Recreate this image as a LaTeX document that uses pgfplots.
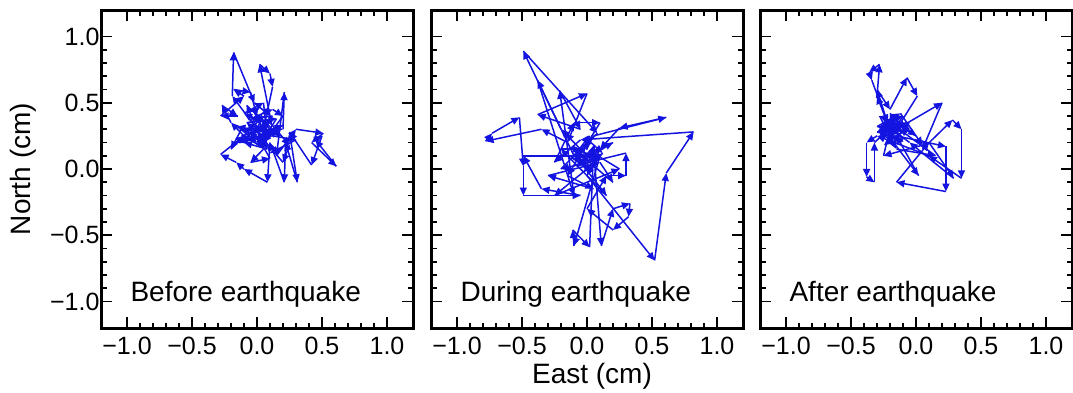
\documentclass[border=0pt]{standalone}
\usepackage{pgfplots}
\pgfplotsset{compat=1.18}
\usepackage{pgfplotstable}
\usepackage{fontspec}
\setmainfont{Liberation Sans}
\usetikzlibrary{arrows.meta}
\definecolor{trk}{RGB}{20,20,225}

\pgfplotstableread{
x y
0.00 0.30
-0.19 0.55
-0.18 0.88
-0.02 0.50
0.10 0.40
0.02 0.79
0.10 0.72
0.12 0.62
0.05 0.30
0.20 0.30
0.21 0.58
0.15 0.10
0.30 0.30
0.51 0.27
0.42 0.20
0.61 0.02
0.45 0.22
0.50 0.25
0.42 0.03
0.25 0.28
0.31 -0.10
0.22 0.20
0.21 -0.10
0.10 0.20
0.08 -0.10
-0.10 0.00
-0.16 0.05
-0.28 0.11
-0.10 0.25
-0.20 0.35
-0.27 0.48
-0.15 0.40
-0.28 0.40
-0.10 0.55
-0.18 0.60
-0.05 0.58
0.00 0.40
0.12 0.45
0.20 0.40
0.05 0.20
0.15 0.30
-0.05 0.30
0.05 0.15
-0.05 0.05
0.10 0.08
0.00 0.25
-0.15 0.20
0.10 0.35
0.25 0.18
0.20 0.05
0.00 0.28
-0.12 0.30
-0.20 0.15
0.05 0.40
-0.05 0.22
0.12 0.25
0.30 0.22
0.10 0.12
0.02 0.35
-0.10 0.42
0.05 0.50
0.08 0.22
-0.08 0.35
0.15 0.38
0.02 0.18
-0.12 0.25
0.10 0.30
-0.02 0.42
0.18 0.25
0.05 0.28
-0.15 0.32
0.00 0.20
0.12 0.40
-0.05 0.38
0.08 0.15
-0.10 0.20
0.20 0.33
0.03 0.25
-0.08 0.48
0.06 0.35
-0.03 0.27
0.00 0.30
}\tabA

\pgfplotstableread{
x y
0.00 0.10
-0.20 0.30
-0.49 0.89
0.08 0.27
-0.10 0.10
-0.38 0.67
-0.10 -0.20
-0.21 0.59
-0.05 0.30
-0.38 0.41
0.00 0.57
-0.15 0.20
-0.35 0.30
-0.78 0.21
-0.73 0.27
-0.52 0.39
-0.49 0.02
-0.49 -0.20
-0.05 -0.20
-0.35 -0.15
-0.49 0.10
0.10 0.10
-0.10 -0.58
-0.11 -0.46
0.02 -0.59
0.05 0.15
0.11 -0.58
0.20 -0.30
0.33 -0.26
0.32 -0.36
0.20 -0.46
0.00 -0.30
0.15 -0.05
0.30 -0.05
0.30 0.12
-0.20 0.00
0.05 0.25
0.61 0.39
0.25 0.31
0.10 0.15
0.00 -0.05
0.52 -0.69
0.61 -0.03
0.82 0.28
-0.05 0.22
-0.25 0.05
-0.10 0.35
0.10 0.35
-0.15 -0.05
0.05 -0.15
-0.30 -0.05
0.10 0.05
0.20 -0.10
-0.10 0.15
0.00 0.00
-0.25 -0.20
0.25 0.00
0.05 0.12
0.20 0.20
-0.05 0.05
0.15 -0.20
-0.20 0.15
-0.05 0.15
0.08 0.05
-0.12 0.08
0.03 0.20
0.12 0.12
-0.02 -0.02
0.06 0.18
-0.08 0.02
0.10 0.08
-0.03 0.12
0.02 0.25
-0.10 0.10
0.00 0.10
}\tabB

\pgfplotstableread{
x y
-0.20 0.30
-0.30 0.55
-0.28 0.79
-0.36 0.73
-0.34 0.67
-0.22 0.35
-0.30 0.60
-0.20 0.45
-0.07 0.69
0.01 0.55
-0.15 0.30
0.20 0.50
0.05 0.15
0.28 0.37
0.35 0.30
0.35 -0.07
0.10 0.10
-0.30 0.25
-0.38 0.20
-0.38 -0.06
-0.32 -0.10
-0.32 0.20
-0.15 0.35
-0.25 0.30
0.02 -0.05
-0.15 0.25
0.23 0.17
0.23 -0.17
-0.15 -0.10
0.10 0.20
0.29 -0.07
-0.05 0.20
-0.25 0.35
-0.10 0.40
-0.22 0.22
-0.05 0.30
-0.28 0.40
-0.15 0.15
0.15 0.10
-0.20 0.35
-0.10 0.28
-0.30 0.32
-0.12 0.42
0.05 0.18
-0.25 0.10
-0.18 0.38
0.00 0.25
-0.12 0.32
-0.25 0.28
-0.15 0.40
-0.28 0.25
-0.10 0.22
-0.22 0.38
-0.18 0.20
-0.05 0.35
-0.27 0.33
-0.14 0.26
-0.20 0.42
-0.08 0.30
-0.24 0.18
-0.16 0.34
-0.30 0.28
-0.20 0.25
}\tabC

\pgfplotstablecreatecol[create col/expr={\nextrow{x}-\thisrow{x}}]{u}\tabA
\pgfplotstablecreatecol[create col/expr={\nextrow{y}-\thisrow{y}}]{v}\tabA
\pgfplotstablecreatecol[create col/expr={\nextrow{x}-\thisrow{x}}]{u}\tabB
\pgfplotstablecreatecol[create col/expr={\nextrow{y}-\thisrow{y}}]{v}\tabB
\pgfplotstablecreatecol[create col/expr={\nextrow{x}-\thisrow{x}}]{u}\tabC
\pgfplotstablecreatecol[create col/expr={\nextrow{y}-\thisrow{y}}]{v}\tabC

\pgfplotsset{
  panel/.style={
    anchor=north west, scale only axis, width=312pt, height=318pt,
    xmin=-1.2, xmax=1.2, ymin=-1.2, ymax=1.2,
    xtick={-1,-0.5,0,0.5,1}, ytick={-1,-0.5,0,0.5,1},
    xticklabels={−1.0,−0.5,0.0,0.5,1.0},
    minor x tick num=4, minor y tick num=4,
    tick align=inside, major tick length=11pt, minor tick length=5.5pt,
    axis line style={line width=3pt},
    every tick/.style={black, line width=1.6pt},
    tick label style={font=\fontsize{25}{30}\selectfont},
    xticklabel style={yshift=-6pt},
    yticklabel style={xshift=2pt},
  },
  trkstyle/.style={trk, line width=1.5pt, -{Triangle[length=8pt,width=7pt]},
    quiver={u=\thisrow{u}, v=\thisrow{v}}},
}

\begin{document}
\begin{tikzpicture}
\useasboundingbox (0,0) rectangle (1073pt,-392pt);
\begin{axis}[panel, at={(101pt,-10pt)}, yticklabels={−1.0,−0.5,0.0,0.5,1.0}]
\addplot[trkstyle, skip coords between index={81}{82}] table[x=x,y=y] {\tabA};
\node[anchor=base west, font=\fontsize{28}{33}\selectfont] at (axis cs:-1.0,-1.0) {Before earthquake};
\end{axis}
\begin{axis}[panel, at={(431pt,-10pt)}, yticklabels={}]
\addplot[trkstyle, skip coords between index={74}{75}] table[x=x,y=y] {\tabB};
\node[anchor=base west, font=\fontsize{28}{33}\selectfont] at (axis cs:-1.0,-1.0) {During earthquake};
\end{axis}
\begin{axis}[panel, at={(760pt,-10pt)}, yticklabels={}]
\addplot[trkstyle, skip coords between index={62}{63}] table[x=x,y=y] {\tabC};
\node[anchor=base west, font=\fontsize{28}{33}\selectfont] at (axis cs:-1.0,-1.0) {After earthquake};
\end{axis}
\node[rotate=90, font=\fontsize{28}{33}\selectfont] at (23pt,-169pt) {North (cm)};
\node[font=\fontsize{28}{33}\selectfont] at (592pt,-376pt) {East (cm)};
\end{tikzpicture}
\end{document}
